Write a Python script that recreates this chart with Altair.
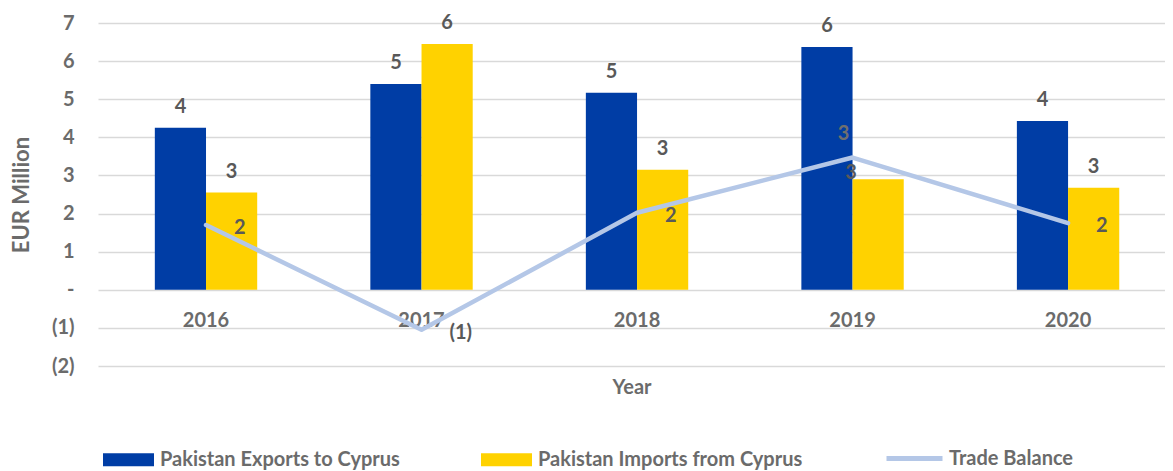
import altair as alt
import pandas as pd

years = ["2016", "2017", "2018", "2019", "2020"]
exports = [4.25, 5.40, 5.17, 6.37, 4.43]
imports = [2.55, 6.45, 3.15, 2.90, 2.68]
balance = [1.70, -1.05, 2.02, 3.47, 1.75]

S_EXP = "Pakistan Exports to Cyprus"
S_IMP = "Pakistan Imports from Cyprus"
S_BAL = "Trade Balance"
bar_series = [S_EXP, S_IMP]
bar_colors = ["#003DA5", "#FFD200"]
line_color = "#B4C7E7"
y_ticks = [-2, -1, 0, 1, 2, 3, 4, 5, 6, 7]

rows = []
for y, e, i in zip(years, exports, imports):
    rows.append({"year": y, "series": S_EXP, "value": e})
    rows.append({"year": y, "series": S_IMP, "value": i})
bars_df = pd.DataFrame(rows)
line_df = pd.DataFrame({"year": years, "series": S_BAL, "value": balance})

FONT = "Lato"
FS = 20
LABEL_C = "#595959"
AXIS_C = "#6B6B6B"

label_calc = "datum.value < 0 ? '(' + format(abs(datum.value), '.0f') + ')' : format(datum.value, '.0f')"

x_enc = alt.X("year:N", sort=years,
              scale=alt.Scale(paddingInner=0.525, paddingOuter=0.238, align=0.554),
              axis=alt.Axis(title="Year", offset=-76, domain=False, ticks=False, labelAngle=0,
                            labelPadding=20, titlePadding=47, labelFont=FONT, labelFontSize=FS,
                            labelFontWeight="bold", labelColor=AXIS_C, titleFont=FONT,
                            titleFontSize=FS, titleFontWeight="bold", titleColor=AXIS_C))
y_enc = alt.Y("value:Q", scale=alt.Scale(domain=[-2, 7], nice=False, zero=False),
              axis=alt.Axis(title="EUR Million", values=y_ticks, tickCount=20,
                            labelOverlap=False, domain=False, ticks=False,
                            labelExpr="datum.value < 0 ? '(' + abs(datum.value) + ')' : datum.value == 0 ? '-\u00a0\u00a0\u00a0' : datum.value + '\u00a0'",
                            labelPadding=24, titlePadding=18, labelFont=FONT, labelFontSize=FS,
                            labelFontWeight="bold", labelColor=AXIS_C, titleFont=FONT,
                            titleFontSize=22, titleFontWeight="bold", titleColor=AXIS_C,
                            gridColor="#D9D9D9", gridWidth=1.5))

rect_path = "M-1,-0.255L1,-0.255L1,0.255L-1,0.255Z"

color_enc = alt.Color("series:N", scale=alt.Scale(domain=bar_series, range=bar_colors),
                      legend=alt.Legend(title=None, orient="none", legendX=5, legendY=411,
                                        direction="horizontal", symbolSize=2601,
                                        symbolType=rect_path, symbolStrokeWidth=0,
                                        labelFont=FONT, labelFontSize=FS, labelFontWeight="bold",
                                        labelColor=AXIS_C, labelOffset=6, columnPadding=81,
                                        labelLimit=400))

stroke_enc = alt.Stroke("series:N", scale=alt.Scale(domain=[S_BAL], range=[line_color]),
                        legend=alt.Legend(title=None, orient="none", legendX=786, legendY=405,
                                          direction="horizontal", symbolSize=3136,
                                          symbolType="stroke", symbolStrokeWidth=5,
                                          labelFont=FONT, labelFontSize=FS, labelFontWeight="bold",
                                          labelColor=AXIS_C, labelOffset=4, labelLimit=400))

xoff = alt.XOffset("series:N", sort=bar_series, scale=alt.Scale(domain=bar_series, paddingInner=0, paddingOuter=0))

bars = alt.Chart(bars_df).mark_bar().encode(x=x_enc, y=y_enc, xOffset=xoff, color=color_enc)

bar_text = alt.Chart(bars_df).transform_calculate(lab=label_calc).transform_filter(
    f"!(datum.year == '2019' && datum.series == '{S_IMP}')").mark_text(
    font=FONT, fontSize=FS, fontWeight="bold", color=LABEL_C, baseline="middle", dy=-21
).encode(x=x_enc, y=y_enc, xOffset=xoff, text="lab:N")

bar_text_2019 = alt.Chart(bars_df).transform_calculate(lab=label_calc).transform_filter(
    f"datum.year == '2019' && datum.series == '{S_IMP}'").mark_text(
    font=FONT, fontSize=FS, fontWeight="bold", color=LABEL_C, baseline="middle", dx=-27, dy=-6
).encode(x=x_enc, y=y_enc, xOffset=xoff, text="lab:N")

line = alt.Chart(line_df).mark_line(strokeWidth=4.5, strokeCap="round", strokeJoin="round").encode(
    x=x_enc, y=y_enc, stroke=stroke_enc)

line_text = alt.Chart(line_df).transform_calculate(lab=label_calc).transform_filter(
    "datum.year != '2019'").mark_text(
    font=FONT, fontSize=FS, fontWeight="bold", color=LABEL_C, align="left", baseline="middle", dx=28, dy=3
).encode(x=x_enc, y=y_enc, text="lab:N")

line_text_2019 = alt.Chart(line_df).transform_calculate(lab=label_calc).transform_filter(
    "datum.year == '2019'").mark_text(
    font=FONT, fontSize=FS, fontWeight="bold", color="#6F6F6F", align="center", baseline="middle", dx=-9, dy=-24
).encode(x=x_enc, y=y_enc, text="lab:N")

chart = alt.layer(bars, line, bar_text, bar_text_2019, line_text, line_text_2019).properties(
    width=1067, height=343,
    autosize=alt.AutoSizeParams(type="none"),
    padding={"left": 90, "top": 15, "right": 0, "bottom": 105},
).configure_view(stroke=None)

chart.save("out.html", embed_options={"renderer": "svg", "actions": False})
